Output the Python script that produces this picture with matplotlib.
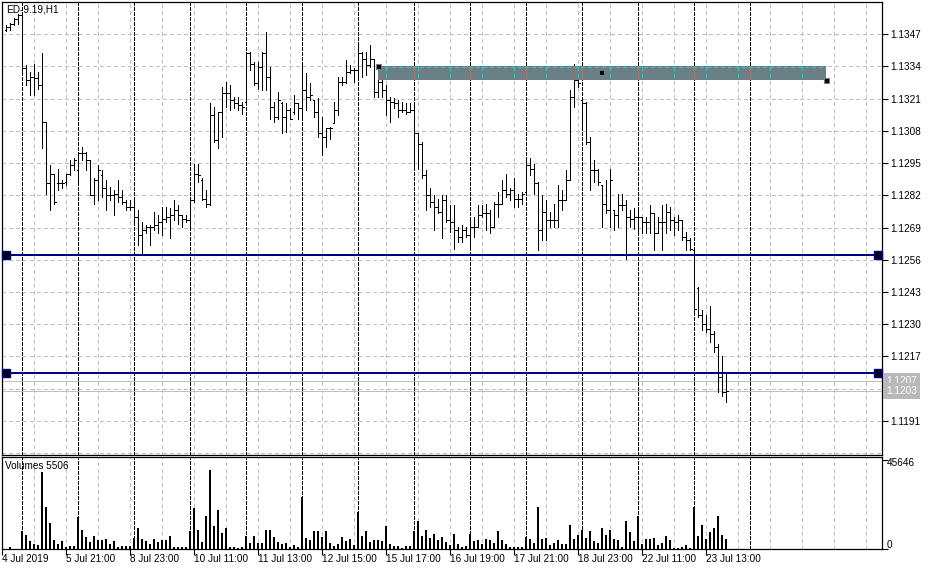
import matplotlib
matplotlib.use('Agg')
import matplotlib.pyplot as plt
from matplotlib.collections import LineCollection
from matplotlib.patches import Rectangle
import numpy as np

plt.rcParams['font.family'] = ['Liberation Sans', 'DejaVu Sans']

# ---------------- data ----------------
symbol_label = "ED-9.19,H1"
volume_label = "Volumes 5506"

opens = [1.13487, 1.13500, 1.13511, 1.13530, 1.13547, 1.13332, 1.13285, 1.13298, 1.13292, 1.13265,
         1.13117, 1.12868, 1.12908, 1.12868, 1.12868, 1.12874, 1.12908, 1.12942, 1.12922, 1.12989,
         1.12989, 1.12962, 1.12821, 1.12881, 1.12901, 1.12848, 1.12821, 1.12821, 1.12827, 1.12814,
         1.12794, 1.12773, 1.12773, 1.12733, 1.12659, 1.12679, 1.12693, 1.12693, 1.12699, 1.12713,
         1.12726, 1.12733, 1.12740, 1.12760, 1.12740, 1.12726, 1.12720, 1.12800, 1.12908, 1.12881,
         1.12807, 1.12787, 1.13144, 1.13043, 1.13157, 1.13231, 1.13231, 1.13204, 1.13191, 1.13184,
         1.13197, 1.13393, 1.13352, 1.13272, 1.13339, 1.13393, 1.13298, 1.13177, 1.13137, 1.13191,
         1.13137, 1.13164, 1.13157, 1.13191, 1.13171, 1.13245, 1.13218, 1.13204, 1.13157, 1.13070,
         1.13056, 1.13090, 1.13110, 1.13164, 1.13278, 1.13278, 1.13319, 1.13325, 1.13325, 1.13393,
         1.13372, 1.13346, 1.13372, 1.13238, 1.13278, 1.13245, 1.13204, 1.13197, 1.13191, 1.13164,
         1.13164, 1.13157, 1.13164, 1.13070, 1.13029, 1.12901, 1.12821, 1.12794, 1.12773, 1.12753,
         1.12800, 1.12720, 1.12713, 1.12679, 1.12652, 1.12679, 1.12659, 1.12693, 1.12693, 1.12740,
         1.12747, 1.12747, 1.12693, 1.12787, 1.12787, 1.12841, 1.12827, 1.12841, 1.12807, 1.12807,
         1.12834, 1.12942, 1.12928, 1.12868, 1.12679, 1.12753, 1.12720, 1.12720, 1.12720, 1.12800,
         1.12800, 1.12881, 1.13218, 1.13285, 1.13204, 1.13191, 1.13036, 1.12922, 1.12922, 1.12861,
         1.12787, 1.12760, 1.12760, 1.12740, 1.12780, 1.12780, 1.12733, 1.12726, 1.12733, 1.12733,
         1.12713, 1.12713, 1.12747, 1.12666, 1.12713, 1.12713, 1.12753, 1.12720, 1.12713, 1.12720,
         1.12652, 1.12639, 1.12599, 1.12444, 1.12336, 1.12302, 1.12282, 1.12262, 1.12208, 1.12087,
         1.12026]
highs = [1.13507, 1.13516, 1.13534, 1.13552, 1.13552, 1.13346, 1.13319, 1.13350, 1.13319, 1.13393,
         1.13117, 1.12942, 1.12908, 1.12928, 1.12881, 1.12908, 1.12962, 1.12969, 1.12996, 1.13016,
         1.12996, 1.12962, 1.12888, 1.12942, 1.12922, 1.12881, 1.12854, 1.12841, 1.12881, 1.12841,
         1.12800, 1.12800, 1.12800, 1.12760, 1.12713, 1.12699, 1.12699, 1.12753, 1.12740, 1.12773,
         1.12773, 1.12767, 1.12800, 1.12780, 1.12740, 1.12740, 1.12800, 1.12948, 1.12948, 1.12888,
         1.12841, 1.13191, 1.13177, 1.13157, 1.13258, 1.13278, 1.13265, 1.13218, 1.13218, 1.13197,
         1.13399, 1.13399, 1.13359, 1.13359, 1.13399, 1.13480, 1.13339, 1.13197, 1.13238, 1.13197,
         1.13191, 1.13171, 1.13224, 1.13191, 1.13359, 1.13312, 1.13272, 1.13204, 1.13211, 1.13137,
         1.13090, 1.13097, 1.13197, 1.13298, 1.13298, 1.13366, 1.13346, 1.13332, 1.13440, 1.13399,
         1.13399, 1.13426, 1.13372, 1.13305, 1.13292, 1.13265, 1.13218, 1.13211, 1.13204, 1.13197,
         1.13191, 1.13191, 1.13184, 1.13070, 1.13036, 1.12922, 1.12848, 1.12821, 1.12807, 1.12821,
         1.12821, 1.12780, 1.12780, 1.12693, 1.12699, 1.12693, 1.12733, 1.12733, 1.12780, 1.12780,
         1.12787, 1.12760, 1.12794, 1.12834, 1.12881, 1.12908, 1.12848, 1.12888, 1.12827, 1.12834,
         1.12969, 1.12969, 1.12948, 1.12874, 1.12821, 1.12800, 1.12753, 1.12787, 1.12861, 1.12841,
         1.12922, 1.13245, 1.13352, 1.13319, 1.13211, 1.13197, 1.13056, 1.12962, 1.12928, 1.12861,
         1.12881, 1.12928, 1.12760, 1.12827, 1.12827, 1.12800, 1.12760, 1.12767, 1.12773, 1.12733,
         1.12733, 1.12780, 1.12747, 1.12733, 1.12780, 1.12787, 1.12773, 1.12733, 1.12740, 1.12720,
         1.12672, 1.12646, 1.12605, 1.12450, 1.12356, 1.12336, 1.12372, 1.12273, 1.12219, 1.12171,
         1.12103]
lows = [1.13483, 1.13487, 1.13507, 1.13511, 1.13319, 1.13265, 1.13224, 1.13224, 1.13251, 1.13009,
        1.12827, 1.12760, 1.12787, 1.12841, 1.12848, 1.12861, 1.12901, 1.12922, 1.12861, 1.12962,
        1.12922, 1.12821, 1.12787, 1.12800, 1.12814, 1.12760, 1.12800, 1.12740, 1.12794, 1.12787,
        1.12760, 1.12760, 1.12713, 1.12619, 1.12585, 1.12666, 1.12619, 1.12679, 1.12666, 1.12659,
        1.12713, 1.12646, 1.12720, 1.12706, 1.12693, 1.12713, 1.12693, 1.12794, 1.12874, 1.12800,
        1.12773, 1.12780, 1.13036, 1.13009, 1.13056, 1.13177, 1.13164, 1.13171, 1.13164, 1.13150,
        1.13197, 1.13325, 1.13265, 1.13251, 1.13245, 1.13245, 1.13130, 1.13117, 1.13130, 1.13070,
        1.13076, 1.13130, 1.13150, 1.13130, 1.13137, 1.13164, 1.13204, 1.13137, 1.13056, 1.12982,
        1.13016, 1.13049, 1.13110, 1.13144, 1.13265, 1.13272, 1.13312, 1.13278, 1.13298, 1.13298,
        1.13305, 1.13339, 1.13218, 1.13218, 1.13218, 1.13144, 1.13117, 1.13171, 1.13137, 1.13157,
        1.13150, 1.13157, 1.12928, 1.12928, 1.12888, 1.12760, 1.12773, 1.12679, 1.12747, 1.12646,
        1.12713, 1.12672, 1.12605, 1.12632, 1.12632, 1.12652, 1.12599, 1.12652, 1.12693, 1.12733,
        1.12679, 1.12666, 1.12693, 1.12733, 1.12787, 1.12814, 1.12800, 1.12773, 1.12773, 1.12787,
        1.12834, 1.12901, 1.12827, 1.12599, 1.12639, 1.12639, 1.12693, 1.12693, 1.12693, 1.12760,
        1.12800, 1.12881, 1.13177, 1.13258, 1.13097, 1.13029, 1.12841, 1.12874, 1.12861, 1.12693,
        1.12747, 1.12693, 1.12679, 1.12693, 1.12760, 1.12565, 1.12693, 1.12686, 1.12666, 1.12666,
        1.12666, 1.12666, 1.12599, 1.12666, 1.12599, 1.12666, 1.12679, 1.12659, 1.12679, 1.12639,
        1.12599, 1.12599, 1.12350, 1.12329, 1.12276, 1.12269, 1.12228, 1.12188, 1.12026, 1.12009,
        1.11986]
closes = [1.13500, 1.13511, 1.13530, 1.13547, 1.13332, 1.13285, 1.13298, 1.13292, 1.13265, 1.13117,
          1.12868, 1.12908, 1.12794, 1.12868, 1.12868, 1.12908, 1.12942, 1.12962, 1.12989, 1.12989,
          1.12962, 1.12821, 1.12881, 1.12922, 1.12848, 1.12821, 1.12821, 1.12827, 1.12814, 1.12794,
          1.12773, 1.12773, 1.12733, 1.12659, 1.12679, 1.12693, 1.12693, 1.12699, 1.12713, 1.12726,
          1.12733, 1.12740, 1.12760, 1.12740, 1.12726, 1.12720, 1.12800, 1.12908, 1.12901, 1.12807,
          1.12787, 1.13144, 1.13043, 1.13157, 1.13231, 1.13231, 1.13204, 1.13191, 1.13184, 1.13177,
          1.13393, 1.13352, 1.13272, 1.13339, 1.13393, 1.13298, 1.13177, 1.13137, 1.13204, 1.13137,
          1.13164, 1.13130, 1.13191, 1.13171, 1.13245, 1.13218, 1.13224, 1.13157, 1.13070, 1.13056,
          1.13090, 1.13090, 1.13164, 1.13278, 1.13278, 1.13319, 1.13325, 1.13325, 1.13393, 1.13372,
          1.13346, 1.13372, 1.13238, 1.13278, 1.13245, 1.13204, 1.13197, 1.13191, 1.13164, 1.13164,
          1.13157, 1.13164, 1.13070, 1.13029, 1.12901, 1.12821, 1.12794, 1.12773, 1.12753, 1.12800,
          1.12720, 1.12713, 1.12679, 1.12652, 1.12679, 1.12659, 1.12693, 1.12693, 1.12740, 1.12747,
          1.12747, 1.12693, 1.12787, 1.12787, 1.12841, 1.12827, 1.12841, 1.12807, 1.12807, 1.12827,
          1.12942, 1.12928, 1.12868, 1.12679, 1.12753, 1.12720, 1.12720, 1.12720, 1.12800, 1.12800,
          1.12881, 1.13218, 1.13285, 1.13272, 1.13191, 1.13036, 1.12922, 1.12922, 1.12874, 1.12787,
          1.12760, 1.12881, 1.12740, 1.12780, 1.12780, 1.12733, 1.12726, 1.12733, 1.12733, 1.12713,
          1.12713, 1.12747, 1.12666, 1.12713, 1.12713, 1.12753, 1.12720, 1.12713, 1.12720, 1.12652,
          1.12639, 1.12605, 1.12363, 1.12336, 1.12302, 1.12282, 1.12262, 1.12208, 1.12087, 1.12026,
          1.12031]
volumes = [344, 1204, 150, 172, 9288, 7396, 4472, 2752, 2236, 39732,
           21844, 13588, 4816, 2752, 4300, 1376, 1548, 1548, 16684, 9976,
           6192, 3784, 6880, 4816, 4816, 5332, 2924, 4300, 1376, 1548,
           1548, 1892, 6020, 11008, 5160, 4472, 2924, 5332, 3956, 4816,
           4644, 6880, 1376, 1376, 1376, 1376, 9116, 21328, 9976, 3784,
           17200, 40420, 11696, 20296, 8256, 10836, 1376, 1376, 860, 1376,
           6880, 3440, 6880, 3440, 3268, 9976, 9632, 6536, 3784, 2924,
           3268, 1376, 2236, 1376, 26488, 6020, 4816, 9460, 9460, 6536,
           9460, 3268, 1720, 2580, 6192, 4472, 5332, 2236, 19092, 6880,
           9460, 3784, 4816, 4816, 4472, 12040, 2752, 1720, 1720, 860,
           1720, 1720, 9460, 14620, 6880, 9976, 5676, 7912, 4816, 6192,
           3956, 2236, 7912, 2752, 1376, 1892, 7912, 4472, 4816, 2752,
           5332, 4816, 3096, 9460, 4816, 2752, 1032, 1032, 1032, 1376,
           6536, 5160, 3440, 21844, 5160, 5676, 2064, 3096, 4816, 2580,
           2752, 12556, 5332, 7396, 9976, 5676, 9116, 4472, 3096, 10836,
           7396, 9632, 5160, 4816, 1376, 14276, 8600, 4472, 17200, 2752,
           5332, 5332, 6020, 2236, 3268, 6880, 4816, 860, 860, 1204,
           2236, 688, 21844, 6880, 12556, 5332, 8600, 11008, 17200, 7396,
           5506]
first_bar = 1

price_ticks = [1.1191, 1.1204, 1.1217, 1.1230, 1.1243, 1.1256, 1.1269, 1.1282,
               1.1295, 1.1308, 1.1321, 1.1334, 1.1347]
price_labels = ["1.1191", "", "1.1217", "1.1230", "1.1243", "1.1256", "1.1269", "1.1282",
                "1.1295", "1.1308", "1.1321", "1.1334", "1.1347"]
extra_grid = [1.1178]
vol_max_label = 45646

date_ticks = [0, 16, 32, 48, 64, 80, 96, 112, 128, 144, 160, 176]
date_labels = ["4 Jul 2019", "5 Jul 21:00", "8 Jul 23:00", "10 Jul 11:00", "11 Jul 13:00",
               "12 Jul 15:00", "15 Jul 17:00", "16 Jul 19:00", "17 Jul 21:00", "18 Jul 23:00",
               "22 Jul 11:00", "23 Jul 13:00"]
day_separators = [5, 19, 33, 47, 61, 75, 89, 103, 117, 131, 145, 159, 173, 187]

hline_levels = [1.12581, 1.12103]
bid_ask = [1.1207, 1.1203]
rect_x = [94, 206]
rect_y = [1.13286, 1.1334]  # bottom, top

# ---------------- layout ----------------
W, H = 930, 571
fig = plt.figure(figsize=(W / 100, H / 100), dpi=100)
fig.patch.set_facecolor('white')

def fy(py):
    return 1 - py / H

ax = fig.add_axes([2.3 / W, fy(455), 880 / W, (455 - 2.3) / H])
axv = fig.add_axes([2.3 / W, fy(549.3), 880 / W, (549.3 - 457) / H])

xs = np.arange(first_bar, first_bar + len(opens))
XMAX = 220
ax.set_xlim(0, XMAX)
ax.set_ylim(1.11772, 1.13599)
axv.set_xlim(0, XMAX)
axv.set_ylim(0, vol_max_label * 92.3 / 89.3)

PX = 0.72  # one pixel in points
grid_col = '#c0c0c0'
for a in (ax, axv):
    for gx in range(0, XMAX, 8):
        a.axvline(gx, color=grid_col, lw=PX, ls=(0, (3, 3)), zorder=1, antialiased=False)
    for sx in day_separators:
        a.axvline(sx, color='black', lw=PX, ls=(0, (3, 2)), zorder=1.2, antialiased=False)
    for sp in a.spines.values():
        sp.set_color('black')
        sp.set_linewidth(0.9)
    a.set_facecolor('white')

for p in price_ticks + extra_grid:
    ax.axhline(p, color=grid_col, lw=PX, ls=(0, (3, 3)), zorder=1, antialiased=False)

# bid / ask lines
for p in bid_ask:
    ax.axhline(p, color='#c0c0c0', lw=PX, zorder=1.5, antialiased=False)

# OHLC bars
tk = 0.4
segs = []
for x, o, h, l, c in zip(xs, opens, highs, lows, closes):
    segs.append([(x, l), (x, h)])
    segs.append([(x - tk, o), (x, o)])
    segs.append([(x, c), (x + tk, c)])
ax.add_collection(LineCollection(segs, colors='black', linewidths=PX, zorder=2,
                                 antialiaseds=False))

# rectangle object
rect = Rectangle((rect_x[0], rect_y[0]), rect_x[1] - rect_x[0], rect_y[1] - rect_y[0],
                 facecolor='#6a7f86', edgecolor='none', zorder=3)
ax.add_patch(rect)
lc2 = LineCollection(segs, colors='#8c7266', linewidths=PX, zorder=3.2, antialiaseds=False)
ax.add_collection(lc2)
lc2.set_clip_path(rect)
for gx in range(0, XMAX, 8):
    ln = ax.axvline(gx, color='#3fc4c4', lw=PX, ls=(0, (3, 3)), zorder=3.3, antialiased=False)
    ln.set_clip_path(rect)
for sx in day_separators:
    ln = ax.axvline(sx, color='#b07a6a', lw=PX, ls=(0, (3, 2)), zorder=3.3, antialiased=False)
    ln.set_clip_path(rect)
ax.plot([rect_x[0], rect_x[1]], [rect_y[1] - 0.00001, rect_y[1] - 0.00001],
        color='#3fc4c4', lw=PX, ls=(0, (3, 3)), zorder=3.4, antialiased=False)
ax.plot([rect_x[0]], [rect_y[1]], 's', ms=3.6, mfc='black', mec='#6a7f86', mew=0.8, zorder=5)
ax.plot([rect_x[1]], [rect_y[0]], 's', ms=3.6, mfc='black', mec='#6a7f86', mew=0.8, zorder=5,
        clip_on=False)
ax.plot([(rect_x[0] + rect_x[1]) / 2], [(rect_y[0] + rect_y[1]) / 2], 's', ms=2.2,
        mfc='black', mec='black', mew=0, zorder=5)

# horizontal lines
for lv in hline_levels:
    ax.axhline(lv, color='#000080', lw=2 * PX, zorder=4, antialiased=False)
    ax.plot([1, 219], [lv, lv], 's', ms=5.2, mfc='black', mec='#000080', mew=1.0,
            zorder=5, clip_on=False)

# price axis
ax.yaxis.tick_right()
ax.set_yticks(price_ticks)
ax.set_yticklabels(price_labels)
ax.tick_params(axis='y', direction='out', length=4, width=0.8, pad=1.5,
               labelsize=7.2, colors='black')
ax.set_xticks([])

# bid/ask label boxes
for p, lab in zip(bid_ask, ["1.1207", "1.1203"]):
    ax.annotate(lab, xy=(1.0, p), xycoords=('axes fraction', 'data'),
                xytext=(3.5, 0), textcoords='offset pixels', va='center', ha='left',
                fontsize=7.2, color='white', zorder=6, annotation_clip=False,
                bbox=dict(boxstyle='square,pad=0.3', fc='#b9b9b9', ec='none'))

# volumes
axv.bar(xs, volumes, width=0.5, color='black', linewidth=0, zorder=2, antialiased=False)
axv.yaxis.tick_right()
axv.set_yticks([0, vol_max_label])
axv.set_yticklabels([])
axv.tick_params(axis='y', direction='out', length=4, width=0.8)
axv.set_xticks(date_ticks)
axv.set_xticklabels([])
axv.tick_params(axis='x', direction='out', length=4, width=0.8)

fig.text(887 / W, fy(463.5), str(vol_max_label), fontsize=7.2, va='center', ha='left')
fig.text(887 / W, fy(545), "0", fontsize=7.2, va='center', ha='left')

for t, lab in zip(date_ticks, date_labels):
    px = 2.3 + 4 * t
    fig.text((px - 0.5) / W, fy(559.5), lab, fontsize=7.2, va='center', ha='left')

fig.text(6.5 / W, fy(9.5), symbol_label, fontsize=7.2, va='center', ha='left')
fig.text(5 / W, fy(466), volume_label, fontsize=7.2, va='center', ha='left')

fig.savefig('out.png', dpi=100, facecolor='white')
